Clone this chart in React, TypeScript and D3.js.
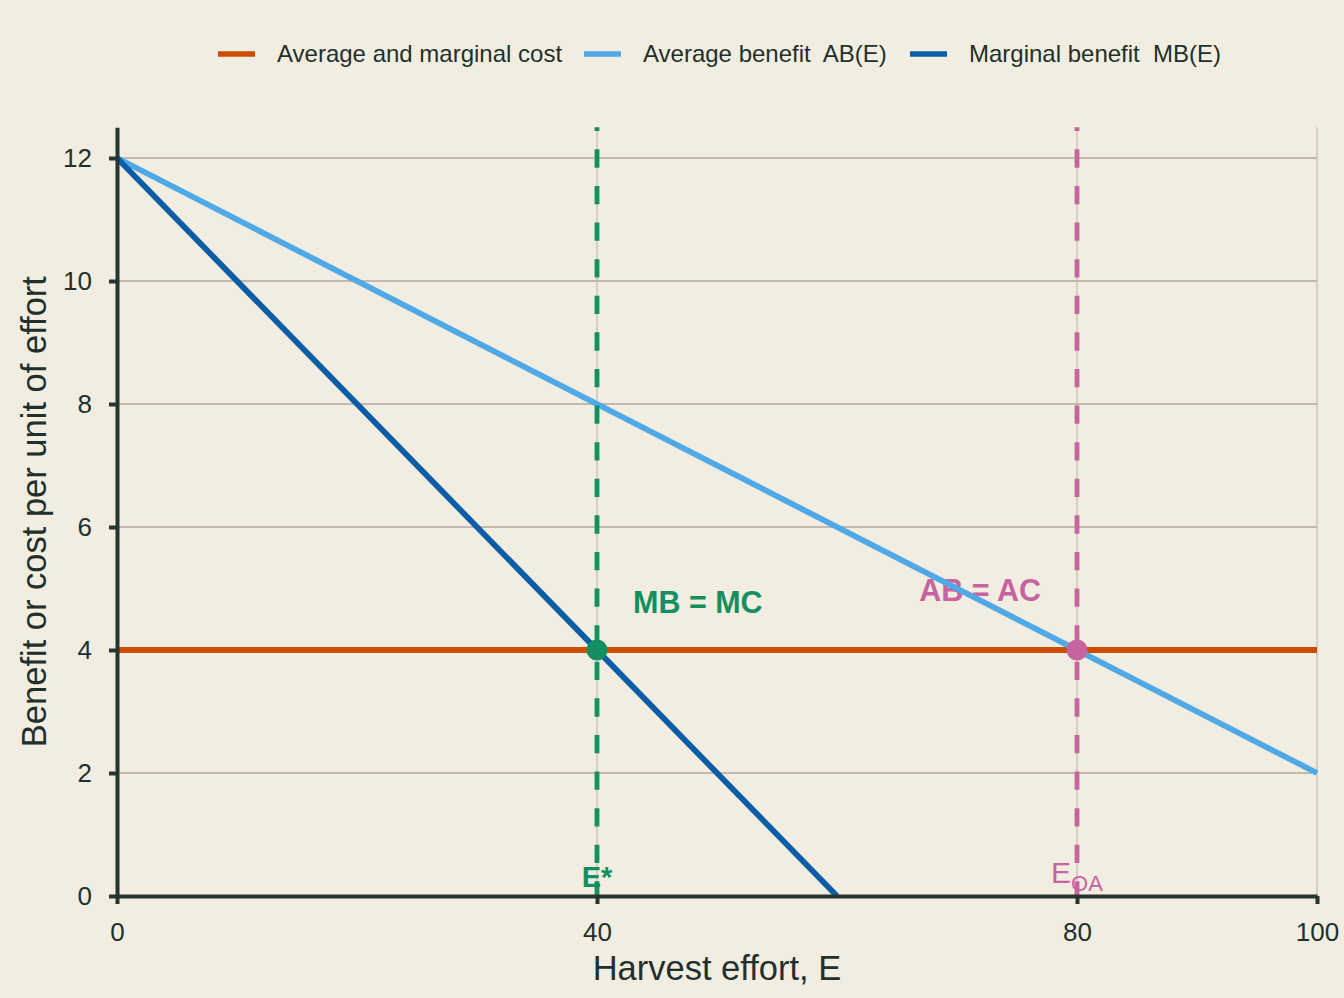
import React, { useRef, useEffect } from 'react';
import * as d3 from 'd3';

const effort = [0, 100];
const costValues = [4, 4];
const abValues = [12, 2];
const mbEffort = [0, 60];
const mbValues = [12, 0];
const xTicks = [0, 40, 80, 100];
const yTicks = [0, 2, 4, 6, 8, 10, 12];
const eStar = 40;
const eOpenAccess = 80;
const eqValue = 4;
const legendLabels = ['Average and marginal cost', 'Average benefit  AB(E)', 'Marginal benefit  MB(E)'];

const width = 1344;
const height = 998;
const bg = '#f2ede1';
const ink = '#22302b';
const axisInk = '#263530';
const gridColor = '#c2baac';
const orange = '#cc4c02';
const lightBlue = '#4fa9e6';
const darkBlue = '#0b5da6';
const green = '#148f5f';
const pink = '#c7649f';
const font = '"Liberation Sans", Arial, sans-serif';

const App: React.FC = () => {
  const ref = useRef<SVGSVGElement>(null);

  useEffect(() => {
    const svg = d3.select(ref.current);
    svg.selectAll('*').remove();

    const x = d3.scaleLinear().domain([0, 100]).range([117, 1317]);
    const y = d3.scaleLinear().domain([0, 12.5]).range([896, 127.25]);

    svg.append('rect').attr('width', width).attr('height', height).attr('fill', bg);

    /** grid */
    const grid = svg.append('g');
    grid
      .selectAll('line.h')
      .data(yTicks.filter((d) => d > 0))
      .join('line')
      .attr('x1', x(0))
      .attr('x2', x(100))
      .attr('y1', (d) => y(d))
      .attr('y2', (d) => y(d))
      .attr('stroke', gridColor)
      .attr('stroke-width', 2);
    grid
      .selectAll('line.v')
      .data(xTicks.filter((d) => d > 0))
      .join('line')
      .attr('x1', (d) => x(d))
      .attr('x2', (d) => x(d))
      .attr('y1', y(12.5))
      .attr('y2', y(0))
      .attr('stroke', gridColor)
      .attr('stroke-opacity', 0.75)
      .attr('stroke-width', 1.6);

    /** annotation text (under the curves) */
    svg
      .append('text')
      .attr('x', x(43))
      .attr('y', y(4.6))
      .attr('fill', green)
      .attr('font-family', font)
      .attr('font-weight', 'bold')
      .attr('font-size', 30.5)
      .text('MB = MC');
    svg
      .append('text')
      .attr('x', x(77))
      .attr('y', y(4.8))
      .attr('text-anchor', 'end')
      .attr('fill', pink)
      .attr('font-family', font)
      .attr('font-weight', 'bold')
      .attr('font-size', 30.5)
      .text('AB = AC');
    svg
      .append('text')
      .attr('x', x(eStar))
      .attr('y', y(0.15))
      .attr('text-anchor', 'middle')
      .attr('fill', green)
      .attr('font-family', font)
      .attr('font-weight', 'bold')
      .attr('font-size', 29)
      .text('E*');
    const eoa = svg
      .append('text')
      .attr('x', x(eOpenAccess))
      .attr('y', y(0.21))
      .attr('text-anchor', 'middle')
      .attr('fill', pink)
      .attr('font-family', font)
      .attr('font-size', 30);
    eoa.append('tspan').text('E');
    eoa.append('tspan').attr('font-size', 22).attr('dy', 8).text('OA');

    /** curves */
    const line = d3
      .line<[number, number]>()
      .x((d) => x(d[0]))
      .y((d) => y(d[1]));
    const curves: { pts: [number, number][]; color: string }[] = [
      { pts: effort.map((e, i) => [e, costValues[i]]), color: orange },
      { pts: effort.map((e, i) => [e, abValues[i]]), color: lightBlue },
      { pts: mbEffort.map((e, i) => [e, mbValues[i]]), color: darkBlue },
    ];
    svg
      .append('g')
      .selectAll('path')
      .data(curves)
      .join('path')
      .attr('d', (d) => line(d.pts))
      .attr('fill', 'none')
      .attr('stroke', (d) => d.color)
      .attr('stroke-width', 5.8);

    /** equilibrium verticals */
    const verticals = [
      { e: eStar, color: green },
      { e: eOpenAccess, color: pink },
    ];
    svg
      .append('g')
      .selectAll('line')
      .data(verticals)
      .join('line')
      .attr('x1', (d) => x(d.e))
      .attr('x2', (d) => x(d.e))
      .attr('y1', y(12.5))
      .attr('y2', y(0))
      .attr('stroke', (d) => d.color)
      .attr('stroke-width', 4.8)
      .attr('stroke-dasharray', '18.3 18.3')
      .attr('stroke-dashoffset', 14.5);

    svg
      .append('g')
      .selectAll('circle')
      .data(verticals)
      .join('circle')
      .attr('cx', (d) => x(d.e))
      .attr('cy', y(eqValue))
      .attr('r', 10.5)
      .attr('fill', (d) => d.color);

    /** axes */
    const yAxis = svg
      .append('g')
      .attr('transform', `translate(${x(0)},0)`)
      .call(d3.axisLeft(y).tickValues(yTicks).tickSize(8).tickSizeOuter(0).tickPadding(17));
    const xAxis = svg
      .append('g')
      .attr('transform', `translate(0,${y(0)})`)
      .call(d3.axisBottom(x).tickValues(xTicks).tickSize(8).tickSizeOuter(0).tickPadding(19));
    [yAxis, xAxis].forEach((g) => {
      g.select('.domain').attr('stroke', axisInk).attr('stroke-width', 4);
      g.selectAll('.tick line').attr('stroke', axisInk).attr('stroke-width', 4);
      g.selectAll('.tick text')
        .attr('fill', ink)
        .attr('font-family', font)
        .attr('font-size', 26);
    });

    svg
      .append('text')
      .attr('x', (x(0) + x(100)) / 2)
      .attr('y', 980)
      .attr('text-anchor', 'middle')
      .attr('fill', ink)
      .attr('font-family', font)
      .attr('font-size', 34.5)
      .text('Harvest effort, E');
    svg
      .append('text')
      .attr('transform', `translate(46,${(y(0) + y(12.5)) / 2}) rotate(-90)`)
      .attr('text-anchor', 'middle')
      .attr('fill', ink)
      .attr('font-family', font)
      .attr('font-size', 34.5)
      .text('Benefit or cost per unit of effort');

    /** legend */
    const legendX = [218, 584, 910];
    const legendColors = [orange, lightBlue, darkBlue];
    const legend = svg
      .append('g')
      .selectAll('g')
      .data(legendLabels)
      .join('g')
      .attr('transform', (d, i) => `translate(${legendX[i]},54)`);
    legend
      .append('line')
      .attr('x1', 0)
      .attr('x2', 37)
      .attr('stroke', (d, i) => legendColors[i])
      .attr('stroke-width', 5.5);
    legend
      .append('text')
      .attr('x', 59)
      .attr('dy', '0.35em')
      .attr('fill', ink)
      .attr('font-family', font)
      .attr('font-size', 24)
      .style('white-space', 'pre')
      .text((d) => d);
  }, []);

  return (
    <svg
      ref={ref}
      width={width}
      height={height}
      style={{ position: 'absolute', left: 0, top: 0 }}
    />
  );
};

export default App;
